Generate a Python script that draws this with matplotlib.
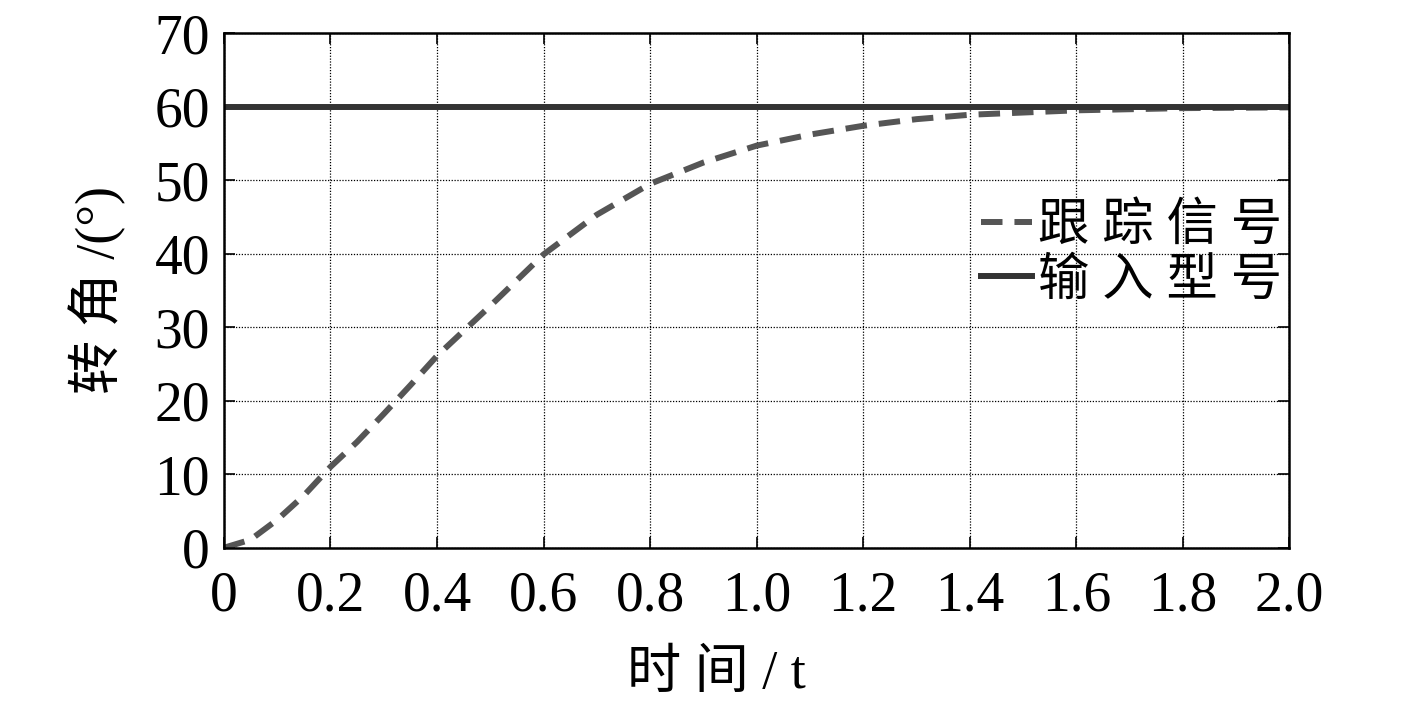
import matplotlib
matplotlib.use("Agg")
import matplotlib.pyplot as plt

t = [0, 0.05, 0.1, 0.15, 0.2, 0.25, 0.3, 0.35, 0.4, 0.5, 0.6, 0.7, 0.8, 0.9, 1.0,
     1.1, 1.2, 1.3, 1.4, 1.5, 1.6, 1.8, 2.0]
track = [0, 1.1, 3.8, 7.1, 11.0, 14.4, 18.2, 22.1, 26.1, 32.9, 39.9, 45.3, 49.5, 52.4,
         54.7, 56.2, 57.4, 58.3, 58.9, 59.2, 59.5, 59.8, 59.9]
input_t = [0, 2.0]
input_v = [60, 60]

xticks = [0, 0.2, 0.4, 0.6, 0.8, 1.0, 1.2, 1.4, 1.6, 1.8, 2.0]
xticklabels = ["0", "0.2", "0.4", "0.6", "0.8", "1.0", "1.2", "1.4", "1.6", "1.8", "2.0"]
yticks = [0, 10, 20, 30, 40, 50, 60, 70]

fam = ["Liberation Serif", "Noto Sans CJK SC"]
plt.rcParams["font.family"] = fam

fig = plt.figure(figsize=(14.17, 7.05), dpi=100)
ax = fig.add_axes([0.158, 0.223, 0.752, 0.730])

ax.plot(t, track, color="#555555", lw=4.3, ls=(0, (3.6, 2.0)), label="跟 踪 信 号")
ax.plot(input_t, input_v, color="#333333", lw=4.3, label="输 入 型 号")

ax.set_xlim(0, 2.0)
ax.set_ylim(0, 70)
ax.set_xticks(xticks)
ax.set_xticklabels(xticklabels)
ax.set_yticks(yticks)
ax.grid(True, color="black", ls=(0, (1, 1.3)), lw=0.9)
ax.tick_params(direction="in", length=8, width=1.2, top=True, right=True,
               labelsize=40)
ax.tick_params(axis="x", pad=16)
ax.tick_params(axis="y", pad=10)
for s in ax.spines.values():
    s.set_linewidth(1.8)

ax.set_xlabel("时 间 / t", fontsize=39)
ax.xaxis.set_label_coords(0.462, -0.198)
ax.set_ylabel("转 角 /(°)", fontsize=39, labelpad=20)

leg = ax.legend(loc="upper right", bbox_to_anchor=(1.012, 0.71), frameon=False,
                fontsize=37, handlelength=1.0, handletextpad=0.1,
                borderaxespad=0.0, labelspacing=0.14)

fig.savefig("out.png", dpi=100)
